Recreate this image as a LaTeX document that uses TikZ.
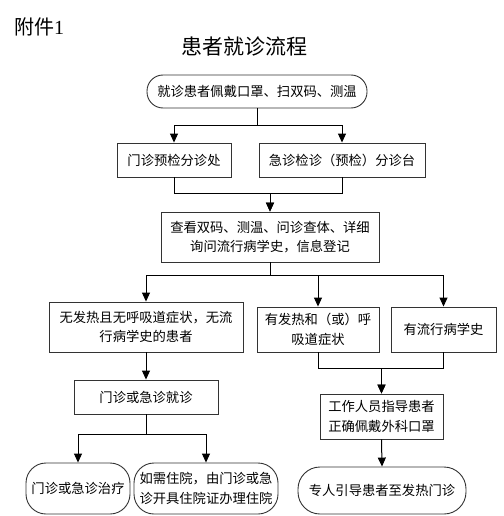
\documentclass[tikz,border=0pt]{standalone}
\usepackage{fontspec}
\setmainfont{Noto Sans CJK SC}
\newfontfamily\serifcjk{Liberation Serif}
\usetikzlibrary{arrows.meta}
\tikzset{
  x=1pt, y=-1pt,
  box/.style={draw=black!80, line width=0.9pt, inner sep=0pt, align=center,
    font=\fontsize{13.3}{19.5}\selectfont},
  rbox/.style={box, rounded corners=16pt},
  conn/.style={line width=1pt, -{Triangle[width=8pt,length=9pt]}},
  plainline/.style={line width=1pt}
}
\begin{document}
\begin{tikzpicture}
\useasboundingbox (0,0) rectangle (503,516);
\node (att) at (39,27) {\fontsize{20}{20}\selectfont 附件{\serifcjk 1}};
\node (title) at (244,47) {\fontsize{21}{21}\selectfont 患者就诊流程};

\node[rbox, minimum width=220pt, minimum height=33pt] (b1) at (257,91.5) {就诊患者佩戴口罩、扫双码、测温};
\node[box, minimum width=114pt, minimum height=34pt] (b2) at (174,160) {门诊预检分诊处};
\node[box, minimum width=166pt, minimum height=34pt] (b3) at (342,160) {急诊检诊（预检）分诊台};
\node[box, minimum width=218pt, minimum height=50pt] (b4) at (270,237) {查看双码、测温、问诊查体、详细\\询问流行病学史，信息登记};
\node[box, minimum width=194pt, minimum height=50pt] (b5) at (146,327) {无发热且无呼吸道症状，无流\\行病学史的患者};
\node[box, minimum width=122pt, minimum height=45pt] (b6) at (318,329.5) {有发热和（或）呼\\吸道症状};
\node[box, minimum width=105pt, minimum height=45pt] (b7) at (443.5,329.5) {有流行病学史};
\node[box, minimum width=144pt, minimum height=34pt] (b8) at (146,397) {门诊或急诊就诊};
\node[box, minimum width=123pt, minimum height=45pt] (b9) at (381.5,416.5) {工作人员指导患者\\正确佩戴外科口罩};
\node[box, rounded corners=20pt, minimum width=104pt, minimum height=51pt] (b10) at (78,488.5) {门诊或急诊治疗};
\node[box, rounded corners=20pt, minimum width=144pt, minimum height=51pt] (b11) at (206,488.5) {如需住院，由门诊或急\\诊开具住院证办理住院};
\node[box, rounded corners=22pt, minimum width=168pt, minimum height=47pt] (b12) at (382,490.5) {专人引导患者至发热门诊};

\draw[conn] (b1.south) -- ++(0,17) -| (b2.north);
\draw[conn] (b1.south) -- ++(0,17) -| (b3.north);
\draw[conn] (b2.south) -- ++(0,16) -| (b4.north);
\draw[conn] (b3.south) -- ++(0,16) -| (b4.north);
\draw[conn] (b4.south) -- ++(0,13) -| (b5.north);
\draw[conn] (b4.south) -- ++(0,13) -| (b6.north);
\draw[conn] (b4.south) -- ++(0,13) -| (b7.north);
\draw[conn] (b5.south) -- (b8.north);
\draw[conn] (b6.south) -- ++(0,16) -| (b9.north);
\draw[conn] (b7.south) -- ++(0,16) -| (b9.north);
\draw[conn] (b8.south) -- ++(0,20) -| (b10.north);
\draw[conn] (b8.south) -- ++(0,20) -| (b11.north);
\draw[conn] (b9.south) -- (b12.north);
\end{tikzpicture}
\end{document}
